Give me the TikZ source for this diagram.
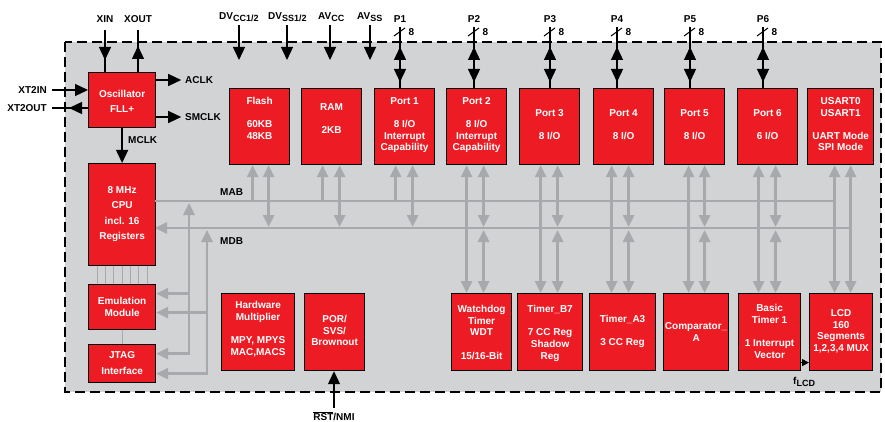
\documentclass[tikz,border=0pt]{standalone}
\usepackage{fontspec}
\setmainfont{Liberation Sans}
\usetikzlibrary{arrows.meta,calc}
\definecolor{tired}{HTML}{ED1C24}
\definecolor{panel}{HTML}{D1D3D4}
\definecolor{busgray}{HTML}{A7A9AC}
\newcommand{\sbs}[1]{\raisebox{-2pt}{\fontsize{9}{9}\selectfont #1}}
\begin{document}
\begin{tikzpicture}[x=1pt,y=-1pt,
  lbl/.style={font=\bfseries\fontsize{10}{12}\selectfont, inner sep=0pt},
  txt/.style={font=\bfseries\fontsize{10}{11.6}\selectfont, text=white, align=center, inner sep=0pt, anchor=north},
  blk/.style={draw=black, line width=1.2pt, fill=tired, inner sep=0pt, anchor=north west},
  wire/.style={draw=black, line width=1.3pt},
  blkarrow/.style={-{Triangle[width=12pt,length=13pt]}},
  bus/.style={draw=busgray, line width=2.8pt},
  busarrow/.style={-{Triangle[width=11pt,length=12pt]}},
  busboth/.style={{Triangle[width=11pt,length=12pt]}-{Triangle[width=11pt,length=12pt]}},
  thinl/.style={draw=busgray, line width=1pt}]
\useasboundingbox (0,0) rectangle (885,422);
% panel
\fill[panel] (65,42) rectangle (881,392);
\draw[line width=2pt, dash pattern=on 10pt off 5pt] (65,42) rectangle (881,392);

% left column
\node[blk, minimum width=67pt, minimum height=55pt] (osc) at (88,72) {};
\node[blk, minimum width=67pt, minimum height=102pt] (cpu) at (88,163) {};
\node[blk, minimum width=67pt, minimum height=45pt] (emu) at (88,284) {};
\node[blk, minimum width=67pt, minimum height=38pt] (jtag) at (88,344) {};
% top row
\node[blk, minimum width=60pt, minimum height=76pt] (flash) at (229,88) {};
\node[blk, minimum width=60pt, minimum height=76pt] (ram) at (301,88) {};
\node[blk, minimum width=60pt, minimum height=76pt] (p1) at (374,88) {};
\node[blk, minimum width=60pt, minimum height=76pt] (p2) at (446,88) {};
\node[blk, minimum width=60pt, minimum height=76pt] (p3) at (519,88) {};
\node[blk, minimum width=60pt, minimum height=76pt] (p4) at (593,88) {};
\node[blk, minimum width=60pt, minimum height=76pt] (p5) at (664,88) {};
\node[blk, minimum width=60pt, minimum height=76pt] (p6) at (737,88) {};
\node[blk, minimum width=66pt, minimum height=76pt] (usart) at (807,88) {};
% bottom row
\node[blk, minimum width=73pt, minimum height=77pt] (hwm) at (221,293) {};
\node[blk, minimum width=60pt, minimum height=77pt] (por) at (304,293) {};
\node[blk, minimum width=60pt, minimum height=77pt] (wdt) at (451,293) {};
\node[blk, minimum width=65pt, minimum height=77pt] (tb) at (517,293) {};
\node[blk, minimum width=66pt, minimum height=77pt] (ta) at (589,293) {};
\node[blk, minimum width=65pt, minimum height=77pt] (comp) at (663,293) {};
\node[blk, minimum width=62pt, minimum height=77pt] (bt) at (738,293) {};
\node[blk, minimum width=63pt, minimum height=77pt] (lcd) at (809,293) {};

% box texts
\node[txt] (osct) at ([yshift=-18.3pt]osc.north) {Oscillator\\[3.4pt]FLL+};
\node[txt] (cput) at ([yshift=-23.3pt]cpu.north) {8 MHz\\[3.9pt]CPU\\[3.9pt]incl. 16\\[3.9pt]Registers};
\node[txt] (emut) at ([yshift=-13.3pt]emu.north) {Emulation\\Module};
\node[txt] (jtagt) at ([yshift=-7.3pt]jtag.north) {JTAG\\[4.4pt]Interface};
\node[txt] (flasht) at ([yshift=-9.3pt]flash.north) {Flash\\[11.6pt]60KB\\48KB};
\node[txt] (ramt) at ([yshift=-15.3pt]ram.north) {RAM\\[11.6pt]2KB};
\node[txt] (p1t) at ([yshift=-9.3pt]p1.north) {Port 1\\[11.6pt]8 I/O\\Interrupt\\Capability};
\node[txt] (p2t) at ([yshift=-9.3pt]p2.north) {Port 2\\[11.6pt]8 I/O\\Interrupt\\Capability};
\node[txt] (p3t) at ([yshift=-21.3pt]p3.north) {Port 3\\[11.6pt]8 I/O};
\node[txt] (p4t) at ([yshift=-21.3pt]p4.north) {Port 4\\[11.6pt]8 I/O};
\node[txt] (p5t) at ([yshift=-21.3pt]p5.north) {Port 5\\[11.6pt]8 I/O};
\node[txt] (p6t) at ([yshift=-21.3pt]p6.north) {Port 6\\[11.6pt]6 I/O};
\node[txt] (usartt) at ([yshift=-9.3pt]usart.north) {USART0\\USART1\\[11.6pt]UART Mode\\SPI Mode};
\node[txt] (hwmt) at ([yshift=-8.3pt]hwm.north) {Hardware\\Multiplier\\[11.6pt]MPY, MPYS\\MAC,MACS};
\node[txt] (port) at ([yshift=-22.3pt]por.north) {POR/\\SVS/\\Brownout};
\node[txt] (wdtt) at ([yshift=-12.3pt]wdt.north) {Watchdog\\Timer\\WDT\\[11.6pt]15/16-Bit};
\node[txt] (tbt) at ([yshift=-12.3pt]tb.north) {Timer\_B7\\[11.6pt]7 CC Reg\\Shadow\\Reg};
\node[txt] (tat) at ([yshift=-22.3pt]ta.north) {Timer\_A3\\[11.6pt]3 CC Reg};
\node[txt] (compt) at ([yshift=-29.3pt]comp.north) {Comparator\_\\A};
\node[txt] (btt) at ([yshift=-11.3pt]bt.north) {Basic\\Timer 1\\[11.6pt]1 Interrupt\\Vector};
\node[txt] (lcdt) at ([yshift=-16.3pt]lcd.north) {LCD\\160\\Segments\\1,2,3,4 MUX};

% thin lines CPU - emulation - JTAG
\foreach \dx in {-24.5,-16.5,-8.5,0.5,8.5,16.5,25.5}
  \draw[thinl] ([xshift=\dx pt]cpu.south) -- ([xshift=\dx pt]emu.north);
\draw[thinl] ([xshift=0.5pt]emu.south) -- ([xshift=0.5pt]jtag.north);

% buses
\coordinate (mabW) at (155,201);
\coordinate (mdbW) at (155,228);
\coordinate (mdbD) at (0,227);
\coordinate (mdbU) at (0,230);
\coordinate (usartA) at ($(usart.south)+(-6,0)$);
\coordinate (usartB) at ($(usart.south)+(10,0)$);
\draw[bus] (mabW) -- (usartA |- mabW);
\draw[bus,busarrow] (usartB |- mdbW) -- (mdbW);
\draw[bus,busboth] (usartA) -- (usartA |- lcd.north);
\draw[bus,busboth] (usartB) -- (usartB |- lcd.north);
\node[lbl, anchor=west] (mabl) at (220,192) {MAB};
\node[lbl, anchor=west] (mdbl) at (220,241) {MDB};

\foreach \pn/\a/\bb in {flash/-7/9, ram/-9/8, p1/-9/8} {
  \coordinate (\pn A) at ($(\pn.south)+(\a,0)$);
  \coordinate (\pn B) at ($(\pn.south)+(\bb,0)$);
  \draw[bus,busarrow] (\pn A |- mabW) -- (\pn A);
  \draw[bus,busboth] (\pn B) -- (\pn B |- mdbD);
}
\foreach \pn/\q/\a/\bb in {p2/wdt/-10/7, p3/tb/-9/8, p4/ta/-12/5, p5/comp/-6/10, p6/bt/-9/8} {
  \coordinate (\pn A) at ($(\pn.south)+(\a,0)$);
  \coordinate (\pn B) at ($(\pn.south)+(\bb,0)$);
  \draw[bus,busboth] (\pn A) -- (\pn A |- \q.north);
  \draw[bus,busboth] (\pn B) -- (\pn B |- mdbD);
  \draw[bus,busboth] (\pn B |- mdbU) -- (\pn B |- \q.north);
}
% emulation / JTAG bus taps
\coordinate (va) at (189,203);
\coordinate (vb) at (207,230);
\coordinate (ja) at ([yshift=10pt]jtag.east);
\coordinate (jb) at ([yshift=-10pt]jtag.east);
\coordinate (ea) at ([yshift=13.5pt]emu.east);
\coordinate (eb) at ([yshift=-5.5pt]emu.east);
\draw[bus,busboth] (ja) -| (va);
\draw[bus,busarrow] (ea -| va) -- (ea);
\draw[bus,busboth] (jb) -| (vb);
\draw[bus,busarrow] (eb -| vb) -- (eb);

% oscillator signals
\node[lbl] (xinl) at (105,19) {XIN};
\coordinate (xint) at (105,30);
\draw[wire] (xint) -- (xint |- osc.north);
\draw[wire,blkarrow] (xint) -- ++(0,30);
\node[lbl] (xoutl) at (138,19) {XOUT};
\coordinate (xoutt) at (138,30);
\draw[wire] (xoutt) -- (xoutt |- osc.north);
\draw[wire,blkarrow] (xoutt |- osc.north) -- ++(0,-26);
\node[lbl, anchor=east] (x2il) at (47,90) {XT2IN};
\coordinate (x2i) at (52,90);
\draw[wire,blkarrow] (x2i) -- (x2i -| osc.west);
\node[lbl, anchor=east] (x2ol) at (47,108) {XT2OUT};
\coordinate (x2o) at (52,108);
\draw[wire] (x2o -| osc.west) -- (x2o);
\draw[wire,blkarrow] (x2o -| osc.west) -- ++(-19,0);
\node[lbl, anchor=west] (aclk) at (185,80) {ACLK};
\draw[wire,blkarrow] (aclk.west -| osc.east) -- ++(25,0);
\node[lbl, anchor=west] (smclk) at (185,117) {SMCLK};
\draw[wire,blkarrow] (smclk.west -| osc.east) -- ++(25,0);
\draw[wire,blkarrow] (osc.south) -- (cpu.north);
\node[lbl, anchor=west] (mclk) at (128,140) {MCLK};

% supplies
\foreach \x/\lx/\t [count=\i] in {239/219/{DV\sbs{CC1/2}}, 287/268/{DV\sbs{SS1/2}}, 330/318/{AV\sbs{CC}}, 370/357/{AV\sbs{SS}}} {
  \node[lbl, anchor=base west] (pwr\i) at (\lx,19.5) {\t};
  \coordinate (pwt\i) at (\x,25);
  \draw[wire,blkarrow] (pwt\i) -- ++(0,35);
}

% ports
\foreach \pn/\x/\p in {p1/400/P1, p2/474/P2, p3/550/P3, p4/617/P4, p5/690/P5, p6/763/P6} {
  \node[lbl] (\pn lbl) at (\x,19) {\p};
  \coordinate (\pn top) at (\x,27);
  \draw[wire] (\pn top) -- (\pn top |- \pn.north);
  \draw[wire,blkarrow] ($(\pn top)+(0,33)$) -- ++(0,-13);
  \draw[wire,blkarrow] ($(\pn top)+(0,40)$) -- ++(0,15);
  \draw[line width=1pt] ($(\pn top)+(-6,9)$) -- ($(\pn top)+(5,1)$);
  \node[lbl] (\pn w) at ($(\pn top)+(11.5,5)$) {8};
}

% reset
\node[lbl] (rst) at (334,416) {$\overline{\hbox{RST}}$/NMI};
\coordinate (rstb) at (334,408);
\draw[wire,blkarrow] (rstb) -- (rstb |- por.south);

% fLCD
\coordinate (fl) at ([yshift=-30.5pt]bt.east);
\draw[wire,-{Triangle[width=7pt,length=7pt]}] (fl) -- (fl -| lcd.west);
\node[lbl, anchor=base west] (flcd) at (793,384) {f\sbs{LCD}};
\end{tikzpicture}
\end{document}
